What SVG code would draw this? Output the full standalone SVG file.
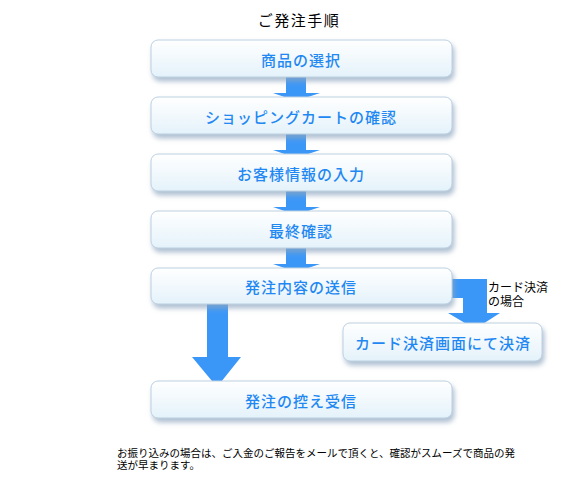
<svg xmlns="http://www.w3.org/2000/svg" width="580" height="500" viewBox="0 0 580 500">
<style>
.box{fill:url(#g);stroke:#bcd0e2;stroke-width:1;filter:url(#sh)}
.lbl{font-family:"Noto Sans CJK JP","Noto Sans",sans-serif;font-size:15px;font-weight:500;letter-spacing:1px;fill:#1f88f2;text-anchor:middle}
.arr{fill:#3b97f7}
.blk{font-family:"Noto Sans CJK JP","Noto Sans",sans-serif;fill:#000}
</style>
<defs>
<linearGradient id="g" x1="0" y1="0" x2="0" y2="1">
<stop offset="0" stop-color="#ffffff"/>
<stop offset="1" stop-color="#e4f2fa"/>
</linearGradient>
<filter id="sh" x="-10%" y="-20%" width="125%" height="160%">
<feGaussianBlur in="SourceAlpha" stdDeviation="2.5"/>
<feOffset dx="2" dy="4" result="b"/>
<feFlood flood-color="#8ea6bf" flood-opacity="0.7"/>
<feComposite in2="b" operator="in"/>
<feMerge><feMergeNode/><feMergeNode in="SourceGraphic"/></feMerge>
</filter>
</defs>
<rect width="580" height="500" fill="#fff"/>
<text class="blk" x="299" y="26" font-size="15" letter-spacing="1.5" text-anchor="middle">ご発注手順</text>
<g id="connectors">
<polygon class="arr" points="286,77 306,77 306,93 320,93 296,101 273,93 286,93"/>
<polygon class="arr" points="286,134 306,134 306,150 320,150 296,158 273,150 286,150"/>
<polygon class="arr" points="286,191 306,191 306,207 320,207 296,215 273,207 286,207"/>
<polygon class="arr" points="286,248 306,248 306,264 320,264 296,272 273,264 286,264"/>
<polygon class="arr" points="207,297 228,297 228,357 241,357 217,387 192,357 207,357"/>
<polygon class="arr" points="440,279 487,279 487,313 500,313 475,329 448,313 463,313 463,298 440,298"/>
</g>
<g id="n1"><rect class="box" x="151" y="40" width="301" height="37" rx="7"/><text class="lbl" x="301" y="65.5">商品の選択</text></g>
<g id="n2"><rect class="box" x="151" y="97" width="301" height="37" rx="7"/><text class="lbl" x="301" y="122.5" letter-spacing="0.2">ショッピングカートの確認</text></g>
<g id="n3"><rect class="box" x="151" y="154" width="301" height="37" rx="7"/><text class="lbl" x="301" y="179.5">お客様情報の入力</text></g>
<g id="n4"><rect class="box" x="151" y="211" width="301" height="37" rx="7"/><text class="lbl" x="301" y="236.5">最終確認</text></g>
<g id="n5"><rect class="box" x="151" y="268" width="301" height="36" rx="7"/><text class="lbl" x="301" y="292.5">発注内容の送信</text></g>
<g id="n6"><rect class="box" x="343" y="323" width="199" height="38" rx="7"/><text class="lbl" x="443" y="348.5">カード決済画面にて決済</text></g>
<g id="n7"><rect class="box" x="151" y="381" width="301" height="37" rx="7"/><text class="lbl" x="301" y="406.5">発注の控え受信</text></g>
<text class="blk" font-size="12"><tspan x="488" y="292">カード決済</tspan><tspan x="488" y="306">の場合</tspan></text>
<text class="blk" font-size="10.5"><tspan x="117" y="457">お振り込みの場合は、ご入金のご報告をメールで頂くと、確認がスムーズで商品の発</tspan><tspan x="117" y="468.5">送が早まります。</tspan></text>
</svg>
